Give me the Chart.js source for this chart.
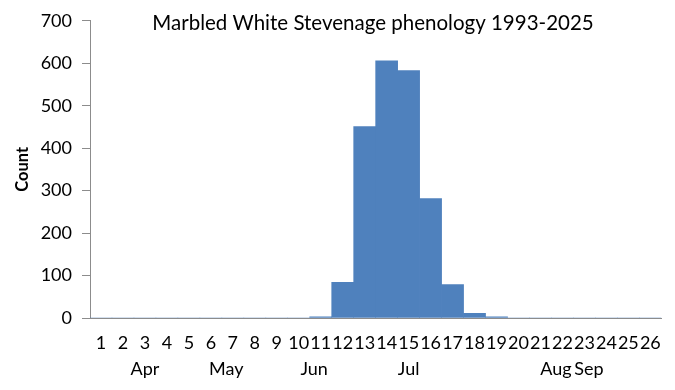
<!DOCTYPE html>
<html><head><meta charset="utf-8">
<script src="https://cdn.jsdelivr.net/npm/chart.js@4"></script>
<style>html,body{margin:0;padding:0;background:#fff}#wrap{width:675px;height:390px}</style>
</head><body><div id="wrap"><canvas id="c" width="675" height="390"></canvas></div>
<script>
const weeks = ['1','2','3','4','5','6','7','8','9','10','11','12','13','14','15','16','17','18','19','20','21','22','23','24','25','26'];
const counts = [0,0,0,0,0,0,0,0,0,0,3,84,451,606,583,281,79,11,3,0,0,0,0,0,0,0];
const monthLabels = ['Apr','May','Jun','Jul','Aug','Sep'];
const monthAt = [3, 6.7, 10.7, 15, 21.7, 23.2];
const yTicks = [0,100,200,300,400,500,600,700];
const titleText = 'Marbled White Stevenage phenology 1993-2025';

const FONT = 'Lato, "Open Sans", sans-serif';
const titlePlugin = {
  id: 'insideTitle',
  afterDraw(chart) {
    const ctx = chart.ctx;
    ctx.save();
    ctx.font = '20.5px ' + FONT;
    ctx.fillStyle = '#000';
    ctx.textAlign = 'center';
    ctx.textBaseline = 'middle';
    ctx.fillText(titleText, 373, 23);
    ctx.restore();
  }
};

new Chart(document.getElementById('c'), {
  type: 'bar',
  data: {
    labels: weeks,
    datasets: [{ data: counts, backgroundColor: '#4F81BD', borderWidth: 0,
      categoryPercentage: 1, barPercentage: 1, xAxisID: 'x' }]
  },
  options: {
    responsive: false, animation: false,
    layout: { padding: { left: 13, right: 11, top: 20, bottom: 0 } },
    plugins: { legend: { display: false }, tooltip: { enabled: false } },
    scales: {
      x: {
        type: 'category', position: 'bottom',
        grid: { display: false, drawTicks: false },
        border: { display: true, color: '#8c8c8c', width: 1 },
        ticks: { color: '#000', font: { family: FONT, size: 18 }, padding: 14, maxRotation: 0, autoSkip: false },
        afterFit(s) { s.height = 40; }
      },
      x2: {
        type: 'linear', position: 'bottom', min: 0.5, max: 26.5, offset: false,
        grid: { display: false, drawTicks: false },
        border: { display: false },
        afterBuildTicks(s) { s.ticks = monthAt.map(v => ({ value: v })); },
        ticks: { color: '#000', font: { family: FONT, size: 18 }, padding: 0, maxRotation: 0, autoSkip: false,
          callback: (v, i) => monthLabels[i] },
        afterFit(s) { s.height = 32; }
      },
      y: {
        min: 0, max: 700,
        afterBuildTicks(s) { s.ticks = yTicks.map(v => ({ value: v })); },
        grid: { drawOnChartArea: false, drawTicks: true, tickLength: 8, color: '#8c8c8c' },
        border: { display: true, color: '#8c8c8c' },
        ticks: { color: '#000', font: { family: FONT, size: 18 }, padding: 10 },
        title: { display: true, text: 'Count', color: '#000', font: { family: FONT, size: 16.5, weight: 'bold' }, padding: 0 },
        afterFit(s) { s.width = 77; }
      }
    }
  },
  plugins: [titlePlugin]
});
</script>
</body></html>
